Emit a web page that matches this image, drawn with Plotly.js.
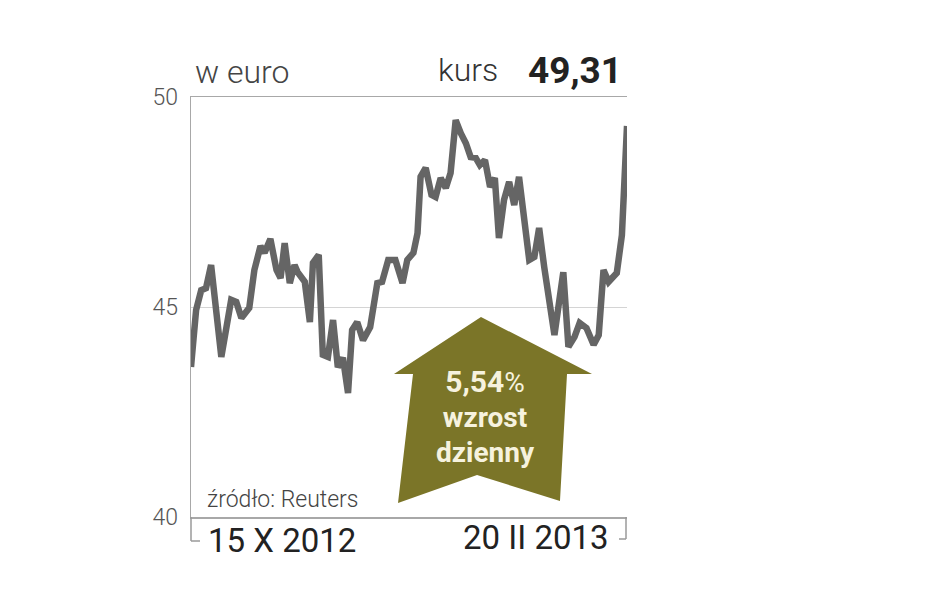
<!DOCTYPE html>
<html>
<head>
<meta charset="utf-8">
<script src="https://cdn.plot.ly/plotly-3.0.1.min.js"></script>
<style>html,body{margin:0;padding:0;background:#fff;}#chart{width:948px;height:593px;}</style>
</head>
<body>
<div id="chart"></div>
<script>
// days since 15 X 2012
const days = [0,1.5,3.0,4.4,5.9,8.9,11.8,13.3,14.8,17.1,18.6,20.4,21.6,23.3,25.1,26.3,27.5,29.0,30.4,31.3,33.4,34.9,35.8,37.5,38.7,40.2,41.7,43.1,44.6,46.1,47.3,48.8,50.5,52.6,54.7,56.1,57.9,60.0,62.1,63.5,65.3,66.5,67.4,68.9,70.6,71.8,73.3,74.8,76.2,77.7,79.2,80.7,82.1,83.6,84.8,86.3,87.8,89.2,90.4,91.9,93.4,94.9,96.3,99.3,100.8,102.2,103.7,106.7,109.3,110.8,112.6,114.1,116.1,118.2,119.7,121.1,122.6,125.0,126.5,128.0];
// price in euro
const kurs = [43.57,44.93,45.40,45.45,46.0,43.81,45.17,45.12,44.74,44.98,45.88,46.45,46.29,46.62,45.88,45.69,46.52,45.57,46.0,45.83,45.6,44.64,46.05,46.24,43.86,43.81,44.69,43.57,43.79,42.95,44.45,44.64,44.21,44.52,45.57,45.6,46.12,46.12,45.57,46.12,46.29,46.76,48.1,48.31,47.67,47.62,48.07,47.83,48.19,49.45,49.14,48.9,48.57,48.55,48.38,48.5,47.86,48.07,46.64,47.55,47.98,47.43,48.1,46.12,46.19,46.88,45.95,44.33,45.83,44.05,44.29,44.62,44.5,44.1,44.33,45.88,45.6,45.81,46.71,49.31];
const yTicks = [40,45,50];
const startLabel = "15 X 2012";
const endLabel = "20 II 2013";
const unitLabel = "w euro";
const lastLabel = "kurs";
const lastValue = "49,31";
const changeValue = "5,54";
const changeText1 = "wzrost";
const changeText2 = "dzienny";
const sourceLabel = "źródło: Reuters";

// pixel -> paper helpers (plot area 191..627 x, 97..517 y)
const L = 191, T = 97, W = 436, H = 420;
const X = px => (px - L) / W;
const Y = py => (T + H - py) / H;

const olive = "#7b7528";
const cream = "#f6f2de";
const F = "Roboto, 'Open Sans', sans-serif";

const arrowPts = [[481,317],[592,374],[567,374],[560,501],[477,475],[398,503],[413,374],[394,374]];
const arrowPath = "M " + arrowPts.map(p => X(p[0]).toFixed(4) + "," + Y(p[1]).toFixed(4)).join(" L ") + " Z";

const gray = "#9a9a9a";
const shapes = [
  {type:"path", xref:"paper", yref:"paper", path: arrowPath, fillcolor: olive, line:{width:0}, layer:"above"},
  {type:"line", xref:"paper", yref:"paper", x0:X(191), x1:X(191), y0:Y(517), y1:Y(541), line:{color:gray,width:1.5}},
  {type:"line", xref:"paper", yref:"paper", x0:X(191), x1:X(200), y0:Y(541), y1:Y(541), line:{color:gray,width:1.5}},
  {type:"line", xref:"paper", yref:"paper", x0:X(626), x1:X(626), y0:Y(517), y1:Y(539), line:{color:gray,width:1.5}},
  {type:"line", xref:"paper", yref:"paper", x0:X(626), x1:X(619), y0:Y(539), y1:Y(539), line:{color:gray,width:1.5}}
];

const ann = (text, px, py, xa, size, color, weight) => ({
  text, xref:"paper", yref:"paper", x:X(px), y:Y(py), xanchor:xa, yanchor:"middle",
  showarrow:false, font:{family:F, size, color, weight: weight || 400}
});

const arrowText = "<span style='font-size:30px;font-weight:700'>" + changeValue + "</span><span style='font-size:28px'>%</span>" +
  "<br><span style='font-size:28px;font-weight:700'>" + changeText1 + "</span>" +
  "<br><span style='font-size:28px;font-weight:700'>" + changeText2 + "</span>";

const annotations = [
  ann(unitLabel, 193, 72, "left", 32, "#444", 300),
  ann(lastLabel, 436, 70, "left", 32, "#333", 300),
  ann("<b>" + lastValue + "</b>", 624, 70, "right", 37, "#222"),
  ann(sourceLabel, 205, 499, "left", 23, "#444", 300),
  ann(startLabel, 206, 540, "left", 33, "#222"),
  ann(endLabel, 611, 537, "right", 33, "#222"),
  Object.assign(ann(arrowText, 485, 416, "center", 27, cream), {align:"center"})
];

const trace = {
  x: days, y: kurs, type:"scatter", mode:"lines",
  line:{color:"#656565", width:6.5, shape:"linear"},
  hoverinfo:"skip"
};

const layout = {
  width:948, height:593,
  margin:{l:L, r:948-L-W, t:T, b:593-T-H, pad:0},
  paper_bgcolor:"#fff", plot_bgcolor:"#fff",
  showlegend:false,
  xaxis:{range:[0,128], showline:true, mirror:true, linecolor:"#a8a8a8", linewidth:1.5,
         showgrid:false, zeroline:false, showticklabels:false, ticks:""},
  yaxis:{range:[40,50], tickvals:yTicks, ticktext:yTicks.map(String), showline:true, linecolor:"#a8a8a8", linewidth:1.5,
         showgrid:true, gridcolor:"#d4d4d4", gridwidth:1, zeroline:false, ticks:"", ticklabelstandoff:7,
         tickfont:{family:F, size:23, color:"#555", weight:300}},
  shapes, annotations
};

Plotly.newPlot("chart", [trace], layout, {staticPlot:true, displayModeBar:false});
</script>
</body>
</html>
